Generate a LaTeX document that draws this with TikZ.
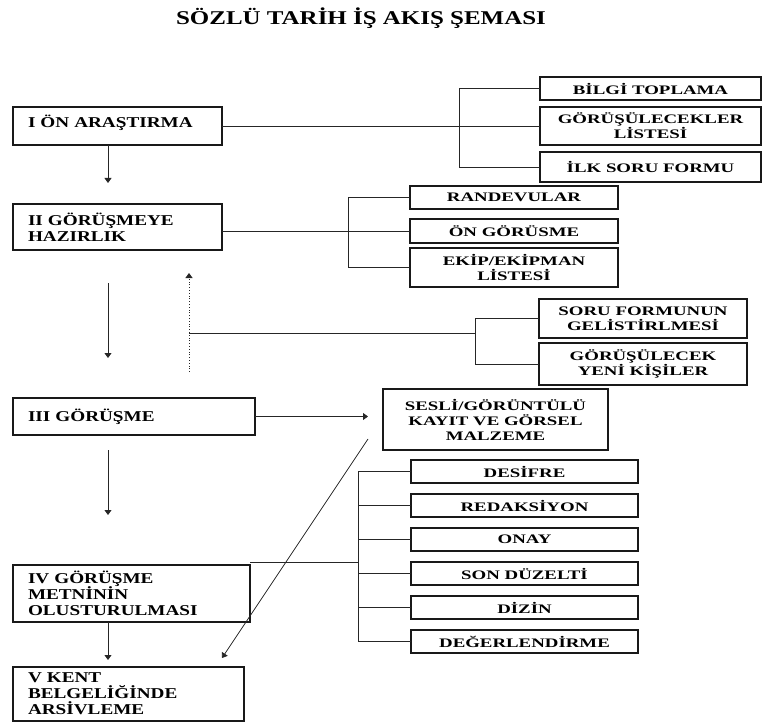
\documentclass[tikz,border=0pt]{standalone}
\usepackage{fontspec}
\setmainfont{Liberation Serif}
\newfontfamily\stagefont{Liberation Serif}[FakeStretch=1.28]
\newfontfamily\taskfont{Liberation Serif}[FakeStretch=1.45]
\usepackage{tikz}
\usetikzlibrary{arrows.meta, positioning, calc}

\begin{document}
\begin{tikzpicture}[
    x=1pt, y=1pt,
    stage/.style={
      rectangle, draw=black!90, line width=1.3pt, outer sep=0pt,
      font=\stagefont\bfseries\fontsize{15}{16}\selectfont,
      align=left, inner xsep=15pt, inner ysep=2pt
    },
    task/.style={
      rectangle, draw=black!90, line width=1.3pt, outer sep=0pt,
      font=\taskfont\bfseries\fontsize{13}{15}\selectfont,
      align=center, inner sep=2pt
    },
    link/.style={line width=0.8pt, draw=black!85},
    flow/.style={link, -{Triangle[length=5pt, width=7pt]}},
  ]
  \useasboundingbox (0,0) rectangle (763,-722);

  \node[anchor=base, font=\stagefont\bfseries\fontsize{19.5}{22}\selectfont] (title) at (361,-25)
    {SÖZLÜ TARİH İŞ AKIŞ ŞEMASI};

  % main stages
  \node[stage, text width=179pt, minimum height=38pt, text depth=9pt, anchor=north west] (onar) at (13,-107)
    {I ÖN ARAŞTIRMA};
  \node[stage, text width=179pt, minimum height=46pt, below=59pt of onar.south west, anchor=north west] (hazir)
    {II GÖRÜŞMEYE\\HAZIRLIK};
  \node[stage, text width=212pt, minimum height=37pt, below=148pt of hazir.south west, anchor=north west] (gorus)
    {III GÖRÜŞME};
  \node[stage, text width=207pt, minimum height=57pt, below=130pt of gorus.south west, anchor=north west] (metin)
    {IV GÖRÜŞME\\METNİNİN\\OLUSTURULMASI};
  \node[stage, text width=201pt, minimum height=54pt, below=45pt of metin.south west, anchor=north west] (arsiv)
    {V KENT\\BELGELİĞİNDE\\ARSİVLEME};

  % tasks of I
  \node[task, minimum width=221pt, minimum height=23pt, anchor=north west] (bilgi) at (540,-77) {BİLGİ TOPLAMA};
  \node[task, minimum width=221pt, minimum height=38pt, below=7pt of bilgi] (listesi) {GÖRÜŞÜLECEKLER\\LİSTESİ};
  \node[task, minimum width=221pt, minimum height=30pt, below=7pt of listesi] (ilkform) {İLK SORU FORMU};

  % tasks of II
  \node[task, minimum width=208pt, minimum height=23pt, anchor=north west] (randevu) at (410,-186) {RANDEVULAR};
  \node[task, minimum width=208pt, minimum height=24pt, below=10pt of randevu] (ongor) {ÖN GÖRÜSME};
  \node[task, minimum width=208pt, minimum height=39pt, below=5pt of ongor] (ekip) {EKİP/EKİPMAN\\LİSTESİ};

  % feedback tasks
  \node[task, minimum width=208pt, minimum height=39pt, anchor=north west] (soruform) at (539,-299)
    {SORU FORMUNUN\\GELİSTİRLMESİ};
  \node[task, minimum width=208pt, minimum height=42pt, below=5pt of soruform] (yenikisi)
    {GÖRÜŞÜLECEK\\YENİ KİŞİLER};

  \node[task, minimum width=225pt, minimum height=61pt, anchor=north west] (sesli) at (383,-389)
    {SESLİ/GÖRÜNTÜLÜ\\KAYIT VE GÖRSEL\\MALZEME};

  % tasks of IV
  \node[task, minimum width=227pt, minimum height=23pt, anchor=north west] (desifre) at (411,-460) {DESİFRE};
  \node[task, minimum width=227pt, minimum height=23pt, below=11pt of desifre] (redak) {REDAKSİYON};
  \node[task, minimum width=227pt, minimum height=23pt, below=11pt of redak] (onay) {ONAY};
  \node[task, minimum width=227pt, minimum height=23pt, below=11pt of onay] (sonduz) {SON DÜZELTİ};
  \node[task, minimum width=227pt, minimum height=23pt, below=11pt of sonduz] (dizin) {DİZİN};
  \node[task, minimum width=227pt, minimum height=23pt, below=11pt of dizin] (degerl) {DEĞERLENDİRME};

  \coordinate (ax) at (108,0);
  \coordinate (b1) at (459,0);
  \coordinate (b2) at (348,0);
  \coordinate (b3) at (475,0);
  \coordinate (b4) at (358,0);
  \coordinate (dbot) at (189,-372);
  \coordinate (dtop) at (189,-273);
  \coordinate (djoin) at (189,-333);
  \coordinate (sin) at ($(sesli.west |- gorus.east)+(-15pt,0)$);
  \coordinate (dstart) at ($(sesli.south west)+(-15pt,11pt)$);
  \coordinate (dend) at ($(arsiv.north east)+(-22pt,9pt)$);
  \coordinate (mtop) at ($(metin.north east)+(0,3pt)$);

  \draw[flow] (ax |- onar.south) -- ($(ax |- hazir.north)+(0,21pt)$);
  \draw[flow] ($(ax |- hazir.south)+(0,-33pt)$) -- ($(ax |- gorus.north)+(0,40pt)$);
  \draw[flow] ($(ax |- gorus.south)+(0,-15pt)$) -- ($(ax |- metin.north)+(0,50pt)$);
  \draw[flow] (ax |- metin.south) -- ($(ax |- arsiv.north)+(0,7pt)$);

  \draw[link] (onar.east |- listesi.west) -- (listesi.west);
  \draw[link] (bilgi.west) -- (b1 |- bilgi.west) -- (b1 |- ilkform.west) -- (ilkform.west);

  \draw[link] (hazir.east |- ongor.west) -- (ongor.west);
  \draw[link] (randevu.west) -- (b2 |- randevu.west) -- (b2 |- ekip.west) -- (ekip.west);

  \draw[flow, dotted, line width=1pt] (dbot) -- (dtop);
  \draw[link] (djoin) -- (b3 |- djoin);
  \draw[link] (soruform.west) -- (b3 |- soruform.west) -- (b3 |- yenikisi.west) -- (yenikisi.west);

  \draw[flow] (gorus.east) -- (sin);
  \draw[flow] (dstart) -- (dend);

  \draw[link] (mtop) -- (b4 |- mtop);
  \draw[link] (desifre.west) -- (b4 |- desifre.west) -- (b4 |- degerl.west) -- (degerl.west);
  \foreach \n in {redak, onay, sonduz, dizin}
    \draw[link] (b4 |- \n.west) -- (\n.west);
\end{tikzpicture}
\end{document}
